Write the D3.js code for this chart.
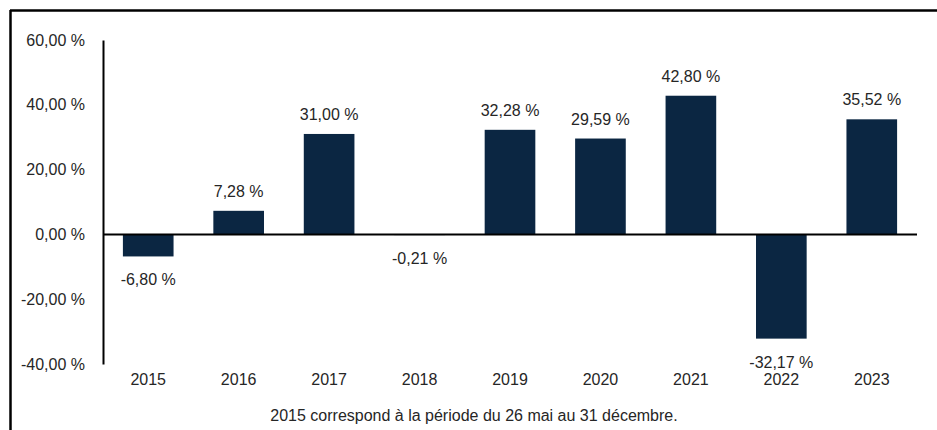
<!DOCTYPE html>
<html>
<head>
<meta charset="utf-8">
<script src="https://cdn.jsdelivr.net/npm/d3@7"></script>
<style>
	body { margin: 0; background: #fff; }
	svg text { font-family: 'Liberation Sans', Arial, sans-serif; fill: #262626; }
</style>
</head>
<body>
<div id="bar-chart"></div>
<script>
// Data
var YEARS = ['2015', '2016', '2017', '2018', '2019', '2020', '2021', '2022', '2023'];
var RETURNS = [-6.80, 7.28, 31.00, -0.21, 32.28, 29.59, 42.80, -32.17, 35.52];
var Y_TICKS = [-40, -20, 0, 20, 40, 60];
var FOOTNOTE = '2015 correspond à la période du 26 mai au 31 décembre.';

var BAR_COLOR = '#0b2642';

var fmtPct = function(v) {
	return v.toFixed(2).replace('.', ',') + ' %';
};

var renderBarChart = function(config) {
	var width = 937;
	var height = 430;

	var margins = {
		top: 40,
		right: 20,
		bottom: 66,
		left: 103
	};

	var chartWidth = width - margins['left'] - margins['right'];
	var chartHeight = height - margins['top'] - margins['bottom'];

	var svg = d3.select(config['container'])
		.append('svg')
		.attr('width', width)
		.attr('height', height);

	// frame (top + left edge of the box)
	svg.append('line')
		.attr('x1', 10).attr('x2', width)
		.attr('y1', 10.5).attr('y2', 10.5)
		.attr('stroke', '#000').attr('stroke-width', 2.5);
	svg.append('line')
		.attr('x1', 10.5).attr('x2', 10.5)
		.attr('y1', 10).attr('y2', height)
		.attr('stroke', '#000').attr('stroke-width', 2.5);

	var chartElement = svg.append('g')
		.attr('transform', 'translate(' + margins['left'] + ',' + margins['top'] + ')');

	var xScale = d3.scaleBand()
		.domain(YEARS)
		.range([0, chartWidth])
		.paddingInner(0.44)
		.paddingOuter(0.22);

	var yScale = d3.scaleLinear()
		.domain([-40, 60])
		.range([chartHeight, 0]);

	var data = YEARS.map(function(y, i) {
		return { year: y, amt: RETURNS[i] };
	});

	// y axis
	var yAxis = d3.axisLeft(yScale)
		.tickValues(Y_TICKS)
		.tickSize(0)
		.tickSizeOuter(0)
		.tickPadding(18)
		.tickFormat(fmtPct);

	var yAxisG = chartElement.append('g')
		.attr('class', 'y axis')
		.call(yAxis);
	yAxisG.select('.domain').attr('stroke', '#000').attr('stroke-width', 2);
	yAxisG.selectAll('text')
		.attr('font-size', 16)
		.attr('font-family', "'Liberation Sans', Arial, sans-serif")
		.attr('fill', '#262626');

	// bars
	chartElement.append('g')
		.attr('class', 'bars')
		.selectAll('rect')
		.data(data)
		.enter()
		.append('rect')
		.attr('x', function(d) { return xScale(d.year); })
		.attr('width', xScale.bandwidth())
		.attr('y', function(d) { return yScale(Math.max(0, d.amt)); })
		.attr('height', function(d) { return Math.abs(yScale(d.amt) - yScale(0)); })
		.attr('fill', BAR_COLOR);

	// zero line
	chartElement.append('line')
		.attr('x1', 0).attr('x2', chartWidth)
		.attr('y1', yScale(0)).attr('y2', yScale(0))
		.attr('stroke', '#000').attr('stroke-width', 2);

	// value labels
	chartElement.append('g')
		.attr('class', 'value')
		.selectAll('text')
		.data(data)
		.enter()
		.append('text')
		.attr('text-anchor', 'middle')
		.attr('font-size', 16)
		.attr('x', function(d) { return xScale(d.year) + xScale.bandwidth() / 2; })
		.attr('y', function(d) {
			if (d.amt >= 0) {
				return yScale(d.amt) - 14;
			}
			return yScale(d.amt) + 29;
		})
		.text(function(d) { return fmtPct(d.amt); });

	// x axis labels (bottom of chart)
	var xAxis = d3.axisBottom(xScale).tickSize(0).tickPadding(10);
	var xAxisG = chartElement.append('g')
		.attr('class', 'x axis')
		.attr('transform', 'translate(0,' + chartHeight + ')')
		.call(xAxis);
	xAxisG.select('.domain').remove();
	xAxisG.selectAll('text')
		.attr('font-size', 16)
		.attr('font-family', "'Liberation Sans', Arial, sans-serif")
		.attr('fill', '#262626');

	// footnote
	svg.append('text')
		.attr('x', 474)
		.attr('y', 421)
		.attr('text-anchor', 'middle')
		.attr('font-size', 16)
		.text(FOOTNOTE);
};

window.onload = function() {
	renderBarChart({ container: '#bar-chart' });
};
</script>
</body>
</html>
